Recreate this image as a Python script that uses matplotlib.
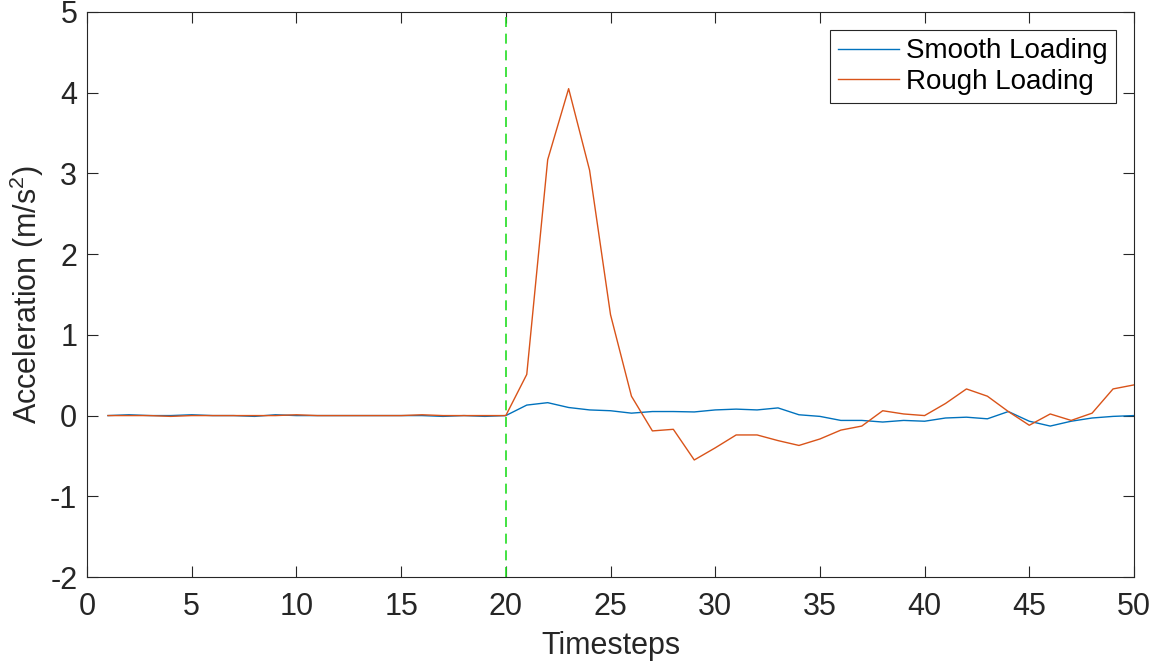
import numpy as np
import matplotlib.pyplot as plt

plt.rcParams['font.family'] = ['Liberation Sans', 'DejaVu Sans']
plt.rcParams['axes.unicode_minus'] = False
plt.rcParams['mathtext.default'] = 'regular'

steps = np.arange(1, 51)
smooth = [0.00, 0.01, 0.00, 0.00, 0.01, 0.00, 0.00, -0.01, 0.01, 0.00,
          0.00, 0.00, 0.00, 0.00, 0.00, 0.00, -0.01, 0.00, -0.01, 0.00,
          0.13, 0.16, 0.10, 0.07, 0.06, 0.03, 0.05, 0.05, 0.045, 0.07,
          0.08, 0.07, 0.095, 0.01, -0.01, -0.06, -0.06, -0.08, -0.06, -0.07,
          -0.03, -0.02, -0.04, 0.05, -0.07, -0.13, -0.07, -0.03, -0.01, 0.00]
rough = [0.00, 0.00, 0.00, -0.01, 0.00, 0.00, 0.00, 0.00, 0.00, 0.01,
         0.00, 0.00, 0.00, 0.00, 0.00, 0.01, 0.00, 0.00, 0.00, 0.00,
         0.51, 3.17, 4.05, 3.04, 1.25, 0.24, -0.19, -0.17, -0.55, -0.40,
         -0.24, -0.24, -0.31, -0.37, -0.29, -0.18, -0.13, 0.06, 0.02, 0.00,
         0.15, 0.33, 0.24, 0.05, -0.12, 0.02, -0.06, 0.03, 0.33, 0.38]
event_step = 20

fig = plt.figure(figsize=(11.53, 6.65), dpi=100)
ax = fig.add_axes([0.0755, 0.1323, 0.908, 0.8497])

ax.plot(steps, smooth, color='#0072BD', lw=1.0, label='Smooth Loading')
ax.plot(steps, rough, color='#D95319', lw=1.0, label='Rough Loading')
ax.axvline(event_step, color='#22dd22', ls=(0, (6, 4)), lw=1.2)

ax.set_xlim(0, 50)
ax.set_ylim(-2, 5)
ax.set_xticks(np.arange(0, 51, 5))
ax.set_yticks(np.arange(-2, 6, 1))
ax.tick_params(direction='in', top=True, right=True, labelsize=22,
               colors='#262626', length=8, width=0.8)
ax.tick_params(axis='x', pad=11)
ax.tick_params(axis='y', pad=7)
for s in ax.spines.values():
    s.set_color('#262626')
    s.set_linewidth(0.8)
ax.set_xlabel('Timesteps', fontsize=22, color='#262626', labelpad=6)
ax.set_ylabel('Acceleration (m/s$^2$)', fontsize=22, color='#262626',
              labelpad=3)

leg = ax.legend(loc='upper right', fontsize=20, fancybox=False,
                framealpha=1, edgecolor='#262626', handlelength=2.2,
                borderaxespad=0.65, handletextpad=0.25, labelspacing=0.15,
                borderpad=0.3)
leg.get_frame().set_linewidth(0.8)

fig.savefig('out.png', dpi=100)
